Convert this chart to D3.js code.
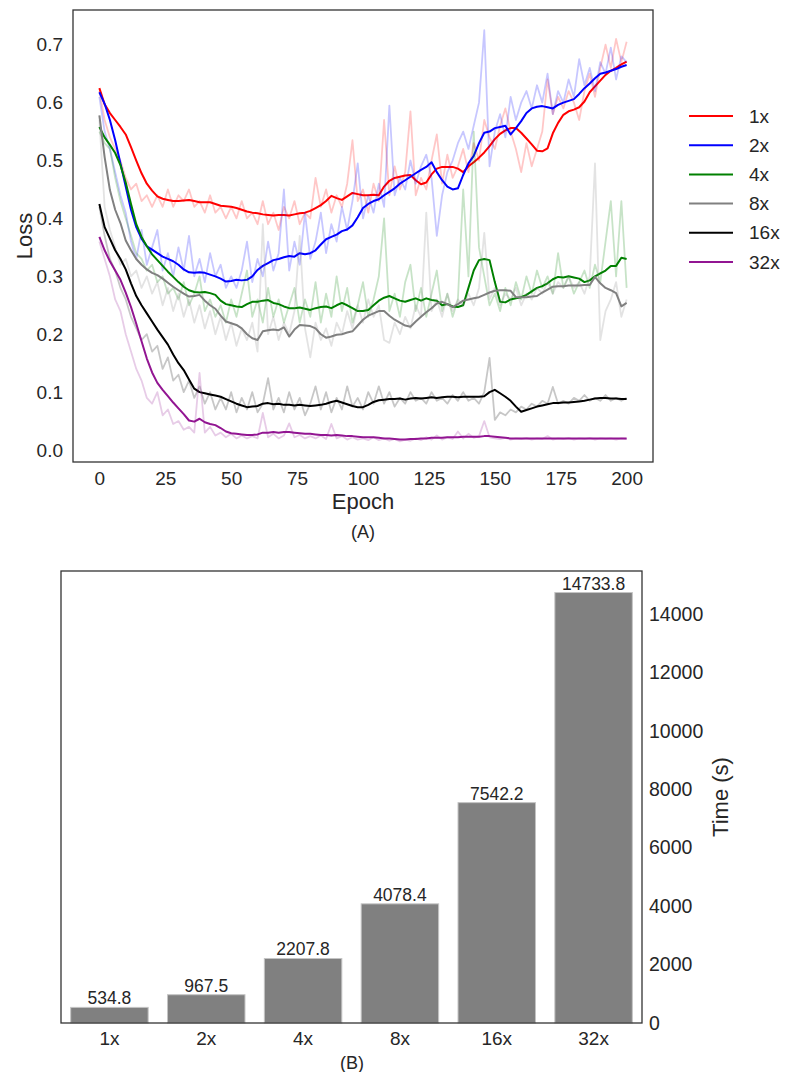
<!DOCTYPE html>
<html>
<head>
<meta charset="utf-8">
<script src="https://cdn.jsdelivr.net/npm/d3@7"></script>
<style>
  body { margin: 0; background: #fff; }
  text { font-family: "Liberation Sans", Arial, sans-serif; fill: #262626; }
</style>
</head>
<body>
<script>
// ---- data: loss curves, one value every 2 epochs (0..200) ----
var epochs = d3.range(0, 201, 2);
var runs = ["1x", "2x", "4x", "8x", "16x", "32x"];
var runColors = ["#ff0000", "#0000ff", "#008000", "#808080", "#000000", "#921592"];

var raw1x = [
  0.620,0.570,0.540,0.520,0.500,0.470,0.450,0.460,0.430,0.440,
  0.420,0.440,0.420,0.450,0.420,0.440,0.430,0.450,0.420,0.430,
  0.410,0.440,0.410,0.420,0.400,0.420,0.400,0.430,0.400,0.410,
  0.390,0.430,0.390,0.410,0.380,0.420,0.400,0.430,0.390,0.410,
  0.400,0.470,0.420,0.450,0.410,0.440,0.420,0.460,0.535,0.430,
  0.450,0.410,0.460,0.430,0.570,0.440,0.490,0.450,0.480,0.585,
  0.440,0.470,0.450,0.500,0.545,0.460,0.510,0.470,0.490,0.520,
  0.480,0.530,0.500,0.570,0.540,0.520,0.560,0.590,0.550,0.520,
  0.480,0.530,0.490,0.520,0.550,0.640,0.580,0.610,0.590,0.620,
  0.600,0.570,0.620,0.650,0.610,0.660,0.700,0.660,0.710,0.670,
  0.705];
var smooth1x = [
  0.625,0.597,0.582,0.570,0.558,0.545,0.523,0.500,0.478,0.460,
  0.448,0.438,0.434,0.432,0.430,0.430,0.431,0.432,0.430,0.428,
  0.428,0.428,0.425,0.422,0.421,0.420,0.418,0.415,0.412,0.410,
  0.409,0.407,0.406,0.405,0.406,0.406,0.405,0.407,0.409,0.410,
  0.413,0.418,0.423,0.430,0.439,0.435,0.432,0.438,0.444,0.442,
  0.440,0.440,0.441,0.440,0.455,0.465,0.470,0.472,0.474,0.475,
  0.466,0.459,0.462,0.476,0.486,0.489,0.489,0.489,0.486,0.480,
  0.490,0.497,0.505,0.514,0.525,0.537,0.546,0.552,0.556,0.556,
  0.548,0.538,0.528,0.517,0.516,0.521,0.547,0.565,0.579,0.585,
  0.588,0.592,0.602,0.618,0.628,0.638,0.648,0.655,0.660,0.666,
  0.671];

var raw2x = [
  0.610,0.550,0.520,0.480,0.440,0.410,0.360,0.330,0.380,0.320,
  0.350,0.380,0.310,0.340,0.300,0.350,0.310,0.370,0.300,0.330,
  0.290,0.340,0.300,0.320,0.280,0.300,0.280,0.310,0.360,0.290,
  0.330,0.300,0.360,0.310,0.340,0.450,0.310,0.360,0.320,0.410,
  0.330,0.360,0.410,0.340,0.390,0.360,0.420,0.380,0.430,0.495,
  0.400,0.440,0.410,0.460,0.420,0.595,0.440,0.470,0.450,0.500,
  0.460,0.490,0.510,0.470,0.370,0.440,0.480,0.500,0.530,0.550,
  0.520,0.560,0.600,0.725,0.490,0.550,0.580,0.540,0.610,0.570,
  0.600,0.620,0.590,0.630,0.600,0.650,0.580,0.620,0.600,0.640,
  0.610,0.675,0.630,0.660,0.620,0.670,0.650,0.695,0.640,0.680,
  0.670];
var smooth2x = [
  0.618,0.598,0.570,0.535,0.495,0.455,0.415,0.385,0.365,0.352,
  0.346,0.340,0.334,0.330,0.326,0.320,0.312,0.307,0.306,0.307,
  0.306,0.303,0.300,0.296,0.291,0.292,0.294,0.293,0.294,0.300,
  0.311,0.318,0.323,0.328,0.330,0.333,0.335,0.334,0.340,0.338,
  0.340,0.345,0.355,0.364,0.368,0.372,0.378,0.381,0.388,0.402,
  0.418,0.425,0.430,0.433,0.440,0.446,0.452,0.460,0.466,0.472,
  0.478,0.484,0.489,0.497,0.480,0.466,0.455,0.450,0.452,0.475,
  0.495,0.508,0.530,0.548,0.550,0.556,0.558,0.560,0.545,0.556,
  0.568,0.582,0.590,0.593,0.594,0.592,0.590,0.596,0.600,0.603,
  0.606,0.615,0.625,0.633,0.642,0.650,0.652,0.655,0.658,0.662,
  0.665];

var raw4x = [
  0.550,0.530,0.520,0.470,0.430,0.400,0.370,0.340,0.330,0.310,
  0.320,0.290,0.300,0.270,0.280,0.260,0.290,0.250,0.270,0.300,
  0.240,0.260,0.230,0.250,0.220,0.260,0.230,0.270,0.310,0.230,
  0.260,0.220,0.280,0.230,0.260,0.220,0.250,0.280,0.220,0.260,
  0.230,0.290,0.220,0.270,0.230,0.300,0.240,0.280,0.220,0.250,
  0.290,0.230,0.260,0.300,0.400,0.240,0.270,0.230,0.290,0.320,
  0.240,0.280,0.230,0.270,0.310,0.240,0.270,0.230,0.260,0.450,
  0.300,0.550,0.350,0.300,0.250,0.270,0.240,0.280,0.250,0.290,
  0.260,0.300,0.270,0.310,0.280,0.300,0.270,0.340,0.280,0.300,
  0.270,0.290,0.310,0.280,0.320,0.290,0.360,0.430,0.300,0.430,
  0.280];
var smooth4x = [
  0.558,0.540,0.527,0.513,0.492,0.462,0.425,0.390,0.368,0.352,
  0.338,0.328,0.318,0.308,0.299,0.290,0.282,0.276,0.273,0.272,
  0.273,0.271,0.268,0.258,0.252,0.250,0.248,0.247,0.252,0.256,
  0.256,0.258,0.259,0.254,0.252,0.248,0.245,0.245,0.246,0.244,
  0.242,0.245,0.247,0.248,0.245,0.250,0.254,0.250,0.245,0.240,
  0.240,0.242,0.250,0.258,0.263,0.266,0.262,0.258,0.256,0.259,
  0.262,0.258,0.262,0.259,0.258,0.250,0.252,0.248,0.247,0.250,
  0.280,0.310,0.328,0.330,0.328,0.290,0.256,0.255,0.260,0.262,
  0.264,0.268,0.274,0.280,0.283,0.288,0.295,0.299,0.298,0.300,
  0.298,0.296,0.290,0.293,0.300,0.305,0.310,0.318,0.318,0.332,
  0.330];

var raw8x = [
  0.570,0.420,0.380,0.350,0.320,0.330,0.300,0.310,0.280,0.300,
  0.270,0.290,0.250,0.280,0.240,0.270,0.230,0.260,0.220,0.250,
  0.210,0.240,0.200,0.230,0.190,0.220,0.180,0.210,0.190,0.220,
  0.170,0.390,0.200,0.230,0.190,0.220,0.200,0.240,0.370,0.210,
  0.160,0.220,0.190,0.210,0.180,0.220,0.200,0.240,0.210,0.250,
  0.220,0.260,0.230,0.250,0.190,0.185,0.220,0.200,0.230,0.210,
  0.250,0.230,0.410,0.240,0.260,0.230,0.270,0.240,0.260,0.250,
  0.270,0.250,0.280,0.375,0.260,0.280,0.250,0.270,0.260,0.280,
  0.250,0.270,0.260,0.280,0.270,0.290,0.270,0.290,0.280,0.300,
  0.280,0.290,0.270,0.300,0.495,0.190,0.240,0.260,0.290,0.230,
  0.260];
var smooth8x = [
  0.578,0.506,0.449,0.415,0.392,0.362,0.345,0.330,0.320,0.312,
  0.306,0.302,0.296,0.289,0.282,0.276,0.270,0.265,0.266,0.268,
  0.258,0.250,0.244,0.232,0.222,0.219,0.216,0.210,0.200,0.193,
  0.190,0.205,0.207,0.208,0.207,0.212,0.196,0.208,0.216,0.215,
  0.214,0.210,0.200,0.194,0.196,0.199,0.200,0.203,0.205,0.215,
  0.225,0.232,0.236,0.240,0.240,0.232,0.225,0.220,0.215,0.213,
  0.222,0.230,0.238,0.245,0.253,0.256,0.252,0.247,0.252,0.258,
  0.260,0.262,0.264,0.268,0.272,0.275,0.276,0.276,0.275,0.264,
  0.264,0.264,0.265,0.266,0.272,0.277,0.282,0.283,0.283,0.284,
  0.284,0.284,0.285,0.285,0.299,0.288,0.280,0.276,0.271,0.248,
  0.254];

var raw16x = [
  0.420,0.370,0.330,0.310,0.280,0.260,0.230,0.210,0.190,0.200,
  0.170,0.180,0.140,0.160,0.120,0.130,0.100,0.120,0.090,0.110,
  0.080,0.100,0.070,0.090,0.070,0.100,0.065,0.090,0.070,0.100,
  0.065,0.080,0.124,0.070,0.090,0.065,0.100,0.070,0.090,0.060,
  0.080,0.110,0.070,0.100,0.065,0.090,0.070,0.110,0.075,0.090,
  0.070,0.100,0.080,0.110,0.080,0.100,0.075,0.090,0.080,0.100,
  0.085,0.090,0.080,0.100,0.085,0.090,0.080,0.095,0.085,0.100,
  0.085,0.090,0.080,0.100,0.159,0.052,0.065,0.060,0.070,0.065,
  0.075,0.070,0.080,0.075,0.085,0.080,0.109,0.080,0.085,0.080,
  0.090,0.085,0.095,0.085,0.090,0.085,0.095,0.085,0.090,0.085,
  0.090];
var smooth16x = [
  0.425,0.385,0.365,0.345,0.330,0.312,0.288,0.266,0.250,0.236,
  0.222,0.208,0.195,0.182,0.165,0.150,0.138,0.122,0.106,0.100,
  0.098,0.096,0.094,0.092,0.088,0.084,0.080,0.077,0.074,0.075,
  0.076,0.080,0.081,0.079,0.080,0.078,0.078,0.077,0.078,0.077,
  0.076,0.077,0.078,0.080,0.083,0.085,0.082,0.079,0.076,0.074,
  0.074,0.078,0.083,0.086,0.087,0.088,0.088,0.089,0.087,0.089,
  0.090,0.089,0.090,0.091,0.090,0.091,0.092,0.092,0.091,0.092,
  0.092,0.092,0.092,0.093,0.100,0.104,0.098,0.092,0.085,0.075,
  0.066,0.069,0.072,0.075,0.077,0.079,0.081,0.081,0.082,0.082,
  0.083,0.084,0.085,0.087,0.089,0.090,0.090,0.089,0.089,0.088,
  0.088];

var raw32x = [
  0.360,0.330,0.300,0.260,0.240,0.200,0.170,0.140,0.120,0.090,
  0.080,0.100,0.060,0.070,0.045,0.050,0.035,0.040,0.030,0.133,
  0.030,0.040,0.025,0.030,0.022,0.028,0.020,0.025,0.020,0.024,
  0.020,0.064,0.022,0.028,0.020,0.025,0.046,0.022,0.026,0.020,
  0.024,0.020,0.025,0.019,0.045,0.020,0.024,0.018,0.022,0.018,
  0.020,0.017,0.022,0.017,0.020,0.016,0.019,0.015,0.018,0.016,
  0.020,0.017,0.022,0.018,0.025,0.018,0.022,0.019,0.032,0.020,
  0.028,0.021,0.024,0.050,0.022,0.020,0.019,0.021,0.018,0.020,
  0.019,0.021,0.018,0.020,0.019,0.024,0.018,0.020,0.019,0.021,
  0.018,0.020,0.019,0.021,0.018,0.020,0.019,0.020,0.018,0.020,
  0.019];
var smooth32x = [
  0.368,0.345,0.326,0.310,0.294,0.272,0.247,0.218,0.188,0.158,
  0.134,0.116,0.104,0.093,0.082,0.072,0.062,0.051,0.049,0.054,
  0.048,0.045,0.043,0.038,0.032,0.029,0.028,0.027,0.026,0.026,
  0.027,0.030,0.030,0.031,0.030,0.031,0.031,0.030,0.029,0.028,
  0.028,0.027,0.026,0.026,0.025,0.026,0.025,0.024,0.024,0.023,
  0.022,0.022,0.022,0.021,0.020,0.020,0.019,0.018,0.018,0.019,
  0.019,0.020,0.020,0.021,0.021,0.021,0.022,0.022,0.022,0.023,
  0.023,0.023,0.023,0.024,0.024,0.023,0.022,0.021,0.020,0.020,
  0.020,0.020,0.020,0.020,0.020,0.020,0.020,0.020,0.020,0.020,
  0.020,0.020,0.020,0.020,0.020,0.020,0.020,0.020,0.020,0.020,
  0.020];

var lossTicks = [0.0, 0.1, 0.2, 0.3, 0.4, 0.5, 0.6, 0.7];
var epochTicks = [0, 25, 50, 75, 100, 125, 150, 175, 200];

// ---- data: training time bars ----
var barCats = ["1x", "2x", "4x", "8x", "16x", "32x"];
var barTimes = [534.8, 967.5, 2207.8, 4078.4, 7542.2, 14733.8];
var timeTicks = [0, 2000, 4000, 6000, 8000, 10000, 12000, 14000];

var rawSeries = [raw1x, raw2x, raw4x, raw8x, raw16x, raw32x];
var smoothSeries = [smooth1x, smooth2x, smooth4x, smooth8x, smooth16x, smooth32x];

var svg = d3.select("body").append("svg")
  .attr("width", 785)
  .attr("height", 1072);

// ================= (A) loss chart =================
var x = d3.scaleLinear().domain([-10, 210]).range([73, 653]);
var y = d3.scaleLinear().domain([-0.0207, 0.76]).range([462, 10]);

var line = d3.line()
  .x(function(d, i) { return x(epochs[i]); })
  .y(function(d) { return y(d); });

var gLines = svg.append("g");
runs.forEach(function(r, k) {
  gLines.append("path")
    .datum(rawSeries[k])
    .attr("d", line)
    .attr("fill", "none")
    .attr("stroke", runColors[k])
    .attr("stroke-opacity", 0.22)
    .attr("stroke-width", 1.8)
    .attr("stroke-linejoin", "round");
  gLines.append("path")
    .datum(smoothSeries[k])
    .attr("d", line)
    .attr("fill", "none")
    .attr("stroke", runColors[k])
    .attr("stroke-width", 2)
    .attr("stroke-linejoin", "round");
});

svg.append("rect")
  .attr("x", 73).attr("y", 10)
  .attr("width", 580).attr("height", 452)
  .attr("fill", "none").attr("stroke", "#333").attr("stroke-width", 1.3);

var xAxis = svg.append("g")
  .attr("transform", "translate(0,462)")
  .call(d3.axisBottom(x).tickValues(epochTicks).tickSize(0).tickPadding(9.5));
xAxis.select(".domain").remove();
xAxis.selectAll("text").style("font-size", "19px");

var yAxis = svg.append("g")
  .attr("transform", "translate(73,0)")
  .call(d3.axisLeft(y).tickValues(lossTicks).tickFormat(d3.format(".1f")).tickSize(0).tickPadding(10));
yAxis.select(".domain").remove();
yAxis.selectAll("text").style("font-size", "19px");

svg.append("text")
  .attr("x", 363).attr("y", 509)
  .attr("text-anchor", "middle")
  .style("font-size", "22px")
  .text("Epoch");

svg.append("text")
  .attr("transform", "translate(32,236) rotate(-90)")
  .attr("text-anchor", "middle")
  .style("font-size", "22px")
  .text("Loss");

svg.append("text")
  .attr("x", 363).attr("y", 538)
  .attr("text-anchor", "middle")
  .style("font-size", "18px")
  .text("(A)");

// legend
var legend = svg.append("g");
runs.forEach(function(r, k) {
  var ly = 116 + k * 29.2;
  legend.append("line")
    .attr("x1", 689).attr("x2", 733)
    .attr("y1", ly).attr("y2", ly)
    .attr("stroke", runColors[k])
    .attr("stroke-width", 2);
  legend.append("text")
    .attr("x", 749).attr("y", ly)
    .attr("dy", "0.35em")
    .style("font-size", "19px")
    .text(r);
});

// ================= (B) time bars =================
var xb = d3.scaleBand().domain(barCats).range([61, 642]).paddingInner(0.2).paddingOuter(0.1);
var yb = d3.scaleLinear().domain([0, 15470.5]).range([1023, 571]);

svg.append("g").selectAll("rect")
  .data(barTimes)
  .enter()
  .append("rect")
  .attr("x", function(d, i) { return xb(barCats[i]); })
  .attr("y", function(d) { return yb(d); })
  .attr("width", xb.bandwidth())
  .attr("height", function(d) { return 1023 - yb(d); })
  .attr("fill", "#808080")
  .attr("stroke", "#c4c4c4")
  .attr("stroke-width", 1);

svg.append("g").selectAll("text")
  .data(barTimes)
  .enter()
  .append("text")
  .attr("x", function(d, i) { return xb(barCats[i]) + xb.bandwidth() / 2; })
  .attr("y", function(d) { return yb(d) - 3; })
  .attr("text-anchor", "middle")
  .style("font-size", "17.5px")
  .text(function(d) { return d.toFixed(1); });

svg.append("rect")
  .attr("x", 61).attr("y", 571)
  .attr("width", 581).attr("height", 452)
  .attr("fill", "none").attr("stroke", "#333").attr("stroke-width", 1.3);

var xbAxis = svg.append("g")
  .attr("transform", "translate(0,1023)")
  .call(d3.axisBottom(xb).tickSize(0).tickPadding(8.5));
xbAxis.select(".domain").remove();
xbAxis.selectAll("text").style("font-size", "19px");

var ybAxis = svg.append("g")
  .attr("transform", "translate(642,0)")
  .call(d3.axisRight(yb).tickValues(timeTicks).tickFormat(d3.format("d")).tickSize(0).tickPadding(7));
ybAxis.select(".domain").remove();
ybAxis.selectAll("text").style("font-size", "19.5px");

svg.append("text")
  .attr("transform", "translate(728,797) rotate(-90)")
  .attr("text-anchor", "middle")
  .style("font-size", "22px")
  .text("Time (s)");

svg.append("text")
  .attr("x", 352).attr("y", 1069)
  .attr("text-anchor", "middle")
  .style("font-size", "18px")
  .text("(B)");
</script>
</body>
</html>
